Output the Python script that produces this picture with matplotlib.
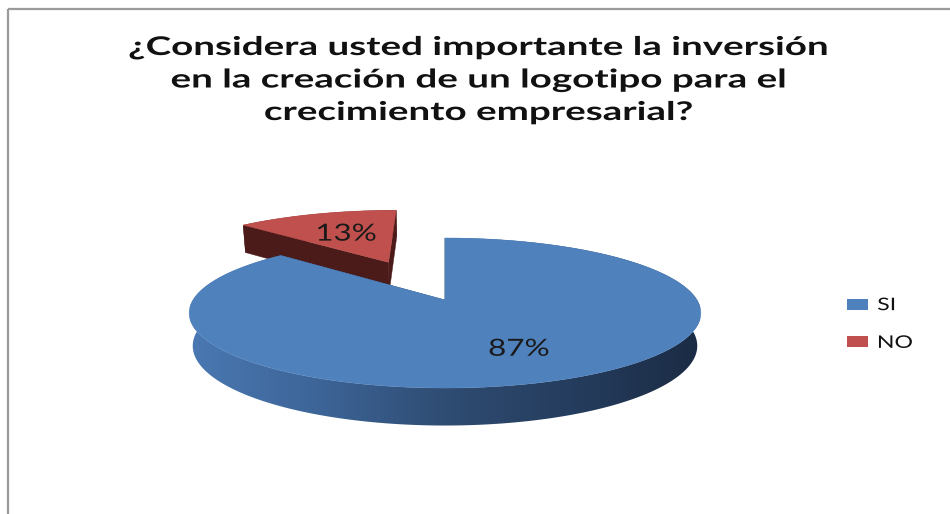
import numpy as np
import matplotlib
matplotlib.use("Agg")
import matplotlib.pyplot as plt
from matplotlib.patches import Polygon, Patch
from matplotlib.patheffects import AbstractPathEffect
from matplotlib.transforms import Affine2D
from matplotlib.colors import LinearSegmentedColormap

# ---- data ----
title_lines = ["¿Considera usted importante la inversión",
               "en la creación de un logotipo para el",
               "crecimiento empresarial?"]
labels = ["SI", "NO"]
values = [87, 13]
top_colors = ["#4f81bd", "#c0504d"]
cut_colors = ["#2f4d74", "#4a1b19"]
explode = [0.0, 0.62]

plt.rcParams["font.family"] = ["Lato", "DejaVu Sans"]


class Stretch(AbstractPathEffect):
    """Widen glyphs horizontally around the line's centre or left edge."""

    def __init__(self, sx, anchor="center"):
        super().__init__()
        self.sx = sx
        self.anchor = anchor

    def draw_path(self, renderer, gc, tpath, affine, rgbFace=None):
        ext = tpath.get_extents(affine)
        x0 = ext.x0 if self.anchor == "left" else 0.5 * (ext.x0 + ext.x1)
        t = affine + Affine2D().translate(-x0, 0).scale(self.sx, 1).translate(x0, 0)
        renderer.draw_path(gc, tpath, t, rgbFace)


TEXT_SX = 1.33
TITLE_SX = 1.5

fig = plt.figure(figsize=(9.5, 5.14), dpi=100)
ax = fig.add_axes([0, 0, 1, 1])
ax.set_xlim(0, 950)
ax.set_ylim(514, 0)
ax.axis("off")

# chart-area frame (only the top and left edges fall inside the canvas)
ax.plot([7.5, 950], [8.5, 8.5], color="#9a9a9a", lw=1.6, solid_capstyle="butt")
ax.plot([7.5, 7.5], [8.5, 514], color="#9a9a9a", lw=1.6, solid_capstyle="butt")

# ---- title ----
for i, line in enumerate(title_lines):
    t = ax.text(479, 47 + 32.5 * i, line, ha="center", va="center",
                fontsize=18.5, fontweight="bold", color="#111111")
    t.set_path_effects([Stretch(TITLE_SX, "center")])

# ---- 3D pie projection ----
CX, CY = 445.0, 300.0
SX, SY = 252.0, 187.0
ELEV = np.deg2rad(22.9)
SIN, COS = np.sin(ELEV), np.cos(ELEV)
DIST = 5.31
THICK = 0.19


def proj(x, y, z):
    x = np.asarray(x, float)
    y = np.asarray(y, float)
    z = np.asarray(z, float)
    yc = y * SIN + z * COS
    zc = y * COS - z * SIN
    f = DIST / (DIST + zc)
    return CX + SX * x * f, CY - SY * yc * f


def depth(x, y, z):
    return y * COS - z * SIN


# slice angular spans: first slice starts at 12 o'clock, going clockwise
total = float(sum(values))
spans = []
start = 90.0
for v in values:
    sweep = 360.0 * v / total
    spans.append((start - sweep, start))  # ccw interval [a0, a1]
    start -= sweep

side_cmap = LinearSegmentedColormap.from_list(
    "side", ["#4a78b2", "#3d6598", "#2f4c72", "#253d5e", "#1b2b44"])
side_grad = np.linspace(0, 1, 256)[None, :]

slices = []
for i, (a0, a1) in enumerate(spans):
    mid = np.deg2rad(0.5 * (a0 + a1))
    ox, oy = explode[i] * np.cos(mid), explode[i] * np.sin(mid)
    th = np.deg2rad(np.linspace(a0, a1, 240))
    slices.append(dict(i=i, a0=np.deg2rad(a0), a1=np.deg2rad(a1), th=th,
                       ox=ox, oy=oy, mid=mid,
                       d=depth(ox + 0.6 * np.cos(mid), oy + 0.6 * np.sin(mid), 0)))

# far slices first
order = sorted(slices, key=lambda s: -s["d"])


def draw_slice(s):
    i, ox, oy, th = s["i"], s["ox"], s["oy"], s["th"]
    # outer wall: band between the top rim and the bottom rim
    xs = ox + np.cos(th)
    ys = oy + np.sin(th)
    tx, ty = proj(xs, ys, np.zeros_like(xs))
    bx, by = proj(xs, ys, np.full_like(xs, -THICK))
    wall = Polygon(np.c_[np.r_[tx, bx[::-1]], np.r_[ty, by[::-1]]], closed=True,
                   facecolor="none", edgecolor="none")
    ax.add_patch(wall)
    if i == 0:
        im = ax.imshow(side_grad, cmap=side_cmap, aspect="auto",
                       extent=(190, 700, 440, 220), interpolation="bilinear",
                       zorder=1)
        im.set_clip_path(wall)
    else:
        wall.set_facecolor(cut_colors[i])
    # radial cut faces
    for a in (s["a0"], s["a1"]):
        xs = np.array([ox, ox + np.cos(a), ox + np.cos(a), ox])
        ys = np.array([oy, oy + np.sin(a), oy + np.sin(a), oy])
        zs = np.array([0, 0, -THICK, -THICK])
        px, py = proj(xs, ys, zs)
        ax.add_patch(Polygon(np.c_[px, py], closed=True,
                             facecolor=cut_colors[i], edgecolor=cut_colors[i],
                             lw=0.3, zorder=1))
    # top face
    xs = np.r_[ox, ox + np.cos(th)]
    ys = np.r_[oy, oy + np.sin(th)]
    px, py = proj(xs, ys, np.zeros_like(xs))
    ax.add_patch(Polygon(np.c_[px, py], closed=True, facecolor=top_colors[i],
                         edgecolor=top_colors[i], lw=0.3, zorder=1))


for s in order:
    draw_slice(s)

# percentage labels on the top faces
label_r = [0.66, 0.55]
for s in slices:
    i = s["i"]
    r = label_r[i]
    lx, ly = proj(s["ox"] + r * np.cos(s["mid"]), s["oy"] + r * np.sin(s["mid"]), 0)
    pct = f"{round(100 * values[i] / total)}%"
    t = ax.text(float(lx), float(ly), pct, ha="center", va="center",
                fontsize=17, color="#1a1a1a", zorder=3)
    t.set_path_effects([Stretch(TEXT_SX, "center")])

# ---- legend ----
handles = [Patch(facecolor=c, edgecolor="none") for c in top_colors]
leg = ax.legend(handles, labels, loc="center left", bbox_to_anchor=(847, 324),
                bbox_transform=ax.transData, frameon=False, fontsize=12.5,
                handlelength=1.2, handleheight=0.6, handletextpad=0.55,
                labelspacing=1.25, borderpad=0, borderaxespad=0)
for t in leg.get_texts():
    t.set_color("#111111")
    t.set_path_effects([Stretch(TEXT_SX, "left")])

fig.savefig("out.png", dpi=100)
